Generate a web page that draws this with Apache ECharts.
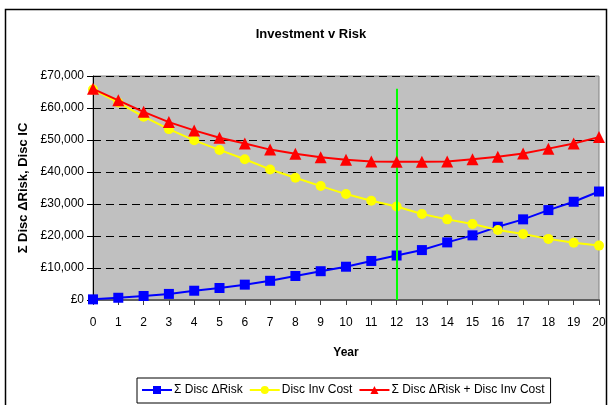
<!DOCTYPE html>
<html>
<head>
<meta charset="utf-8">
<script src="https://cdn.jsdelivr.net/npm/echarts@6/dist/echarts.min.js"></script>
<style>
  html, body { margin: 0; padding: 0; background: #ffffff; }
  #chart { width: 609px; height: 405px; }
</style>
</head>
<body>
<div id="chart"></div>
<script>
// Years along the x axis
const years = [0, 1, 2, 3, 4, 5, 6, 7, 8, 9, 10, 11, 12, 13, 14, 15, 16, 17, 18, 19, 20];

// Cumulative discounted change in risk (£)
const discRisk = [200, 700, 1250, 1900, 2900, 3750, 4800, 6000, 7500, 9000, 10400,
                  12200, 13900, 15600, 18000, 20200, 22900, 25200, 28100, 30700, 33900];

// Discounted investment cost (£)
const discInvCost = [65800, 61700, 57300, 53400, 49900, 46900, 44000, 40800, 38200, 35600, 33100,
                     31000, 29200, 26900, 25200, 23750, 21900, 20600, 19100, 17900, 17000];

// Total of the two (£)
const totalCost = [66000, 62400, 58800, 55600, 53000, 50700, 48900, 47000, 45700, 44600, 43800,
                   43300, 43200, 43200, 43300, 44000, 44800, 45800, 47300, 48900, 50900];

// Optimum year marker
const optimumYear = 12;
const optimumTop = 66000;

const seriesNames = ['\u03A3 Disc \u0394Risk', 'Disc Inv Cost', '\u03A3 Disc \u0394Risk + Disc Inv Cost'];

const pair = arr => arr.map((v, i) => [years[i], v]);
const fmtPound = v => '\u00A3' + String(v).replace(/\B(?=(\d{3})+(?!\d))/g, ',');

const font = '"Liberation Sans", Arial, sans-serif';

const chart = echarts.init(document.getElementById('chart'), null, { renderer: 'canvas' });

chart.setOption({
  animation: false,
  backgroundColor: '#ffffff',
  textStyle: { fontFamily: font },
  title: {
    text: 'Investment v Risk',
    left: 306,
    textAlign: 'center',
    top: 23,
    textStyle: { fontSize: 13, fontWeight: 'bold', color: '#000', fontFamily: font }
  },
  graphic: [
    {
      type: 'rect',
      shape: { x: 5.5, y: 9.5, width: 601, height: 420 },
      style: { fill: 'none', stroke: '#000', lineWidth: 1.5 },
      silent: true,
      z: -1
    }
  ],
  grid: {
    left: 93, right: 10, top: 76, bottom: 105,
    show: true,
    backgroundColor: '#c0c0c0',
    borderColor: '#808080',
    borderWidth: 1
  },
  legend: {
    left: 137,
    top: 378,
    padding: [6, 6, 7, 4],
    itemGap: 6,
    itemWidth: 30,
    itemHeight: 10,
    borderColor: '#000',
    borderWidth: 1,
    backgroundColor: '#fff',
    textStyle: { fontSize: 12, color: '#000', fontFamily: font, padding: [0, 0, 0, -3] },
    data: seriesNames
  },
  xAxis: {
    type: 'value',
    min: 0, max: 20, interval: 1,
    name: 'Year',
    nameLocation: 'middle',
    nameGap: 47,
    nameTextStyle: { fontSize: 12, fontWeight: 'bold', color: '#000', fontFamily: font },
    axisLine: { show: true, onZero: false, lineStyle: { color: '#606060', width: 2 } },
    axisTick: { show: true, inside: false, length: 5, lineStyle: { color: '#404040' } },
    axisLabel: { fontSize: 12, color: '#000', margin: 17, fontFamily: font },
    splitLine: { show: false }
  },
  yAxis: {
    type: 'value',
    min: 0, max: 70000, interval: 10000,
    name: '\u03A3 Disc \u0394Risk, Disc IC',
    nameLocation: 'middle',
    nameRotate: 90,
    nameGap: 58,
    nameTextStyle: { fontSize: 13, fontWeight: 'bold', color: '#000', fontFamily: font },
    axisLine: { show: true, lineStyle: { color: '#000', width: 1 } },
    axisTick: { show: true, inside: false, length: 6, lineStyle: { color: '#000' } },
    axisLabel: { fontSize: 12, color: '#000', margin: 9, formatter: fmtPound, fontFamily: font },
    splitLine: { show: true, lineStyle: { color: '#000', type: [8, 5], width: 1 } }
  },
  series: [
    {
      name: seriesNames[0],
      type: 'line',
      data: pair(discRisk),
      symbol: 'rect',
      symbolSize: 10,
      lineStyle: { color: '#0000ff', width: 2 },
      itemStyle: { color: '#0000ff' },
      z: 3,
      markLine: {
        silent: true,
        symbol: ['none', 'none'],
        label: { show: false },
        lineStyle: { color: '#00ff00', width: 2, type: 'solid' },
        data: [[{ coord: [optimumYear, 0] }, { coord: [optimumYear, optimumTop] }]]
      }
    },
    {
      name: seriesNames[1],
      type: 'line',
      data: pair(discInvCost),
      symbol: 'circle',
      symbolSize: 10,
      lineStyle: { color: '#ffff00', width: 2 },
      itemStyle: { color: '#ffff00' },
      z: 4
    },
    {
      name: seriesNames[2],
      type: 'line',
      data: pair(totalCost),
      symbol: 'triangle',
      symbolSize: 12,
      lineStyle: { color: '#ff0000', width: 2 },
      itemStyle: { color: '#ff0000' },
      z: 5
    }
  ]
});
</script>
</body>
</html>
